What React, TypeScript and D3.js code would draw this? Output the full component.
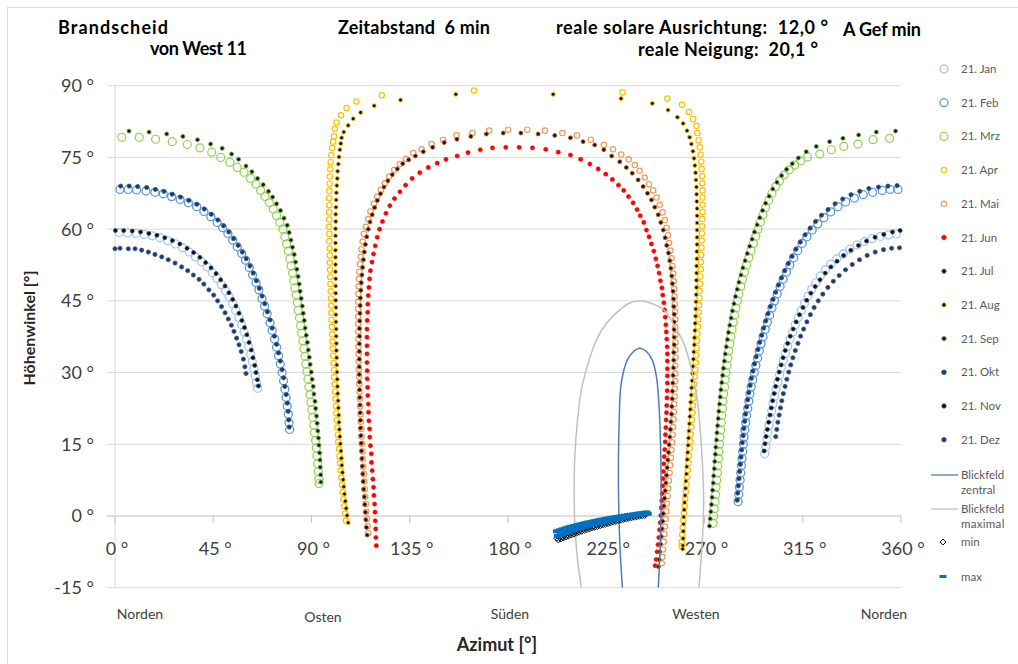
import React from 'react';
import * as d3 from 'd3';

type P = [number, number];

// ---------------- data (azimut °, höhenwinkel °) ----------------
const jan: P[] = [
  [2.0,59.3],[5.8,59.2],[9.6,59.1],[13.3,58.9],[17.0,58.6],[20.6,58.2],[24.2,57.6],[27.6,56.9],[30.9,56.1],[34.0,55.2],[36.9,54.2],[39.7,53.2],[42.2,52.1],[44.5,50.9],[46.7,49.7],[48.7,48.4],[50.6,47.1],[52.3,45.8],[53.9,44.4],[55.3,43.0],[56.7,41.5],[58.0,40.0],[59.1,38.5],[60.2,37.0],[61.2,35.4],[62.1,33.8],[62.9,32.3],[63.6,30.8],[64.2,29.3],[64.8,27.9],[65.3,26.7],
  [297.6,13.0],[298.1,14.5],[298.6,16.0],[299.1,17.5],[299.6,19.0],[300.2,20.5],[300.8,22.0],[301.4,23.5],[302.1,25.0],[302.8,26.5],[303.6,28.0],[304.4,29.5],[305.2,31.0],[306.1,32.5],[307.1,34.0],[308.1,35.5],[309.2,37.0],[310.4,38.5],[311.6,40.0],[312.9,41.5],[314.3,43.0],[315.8,44.5],[317.4,46.0],[319.1,47.4],[321.0,48.8],[323.1,50.2],[325.4,51.5],[327.9,52.7],[330.6,53.8],[333.5,54.8],[336.6,55.8],[339.9,56.7],[343.3,57.4],[346.9,58.0],[350.6,58.5],[354.3,58.8],[357.9,59.0]
];
const feb: P[] = [
  [2.3,68.3],[6.1,68.3],[9.9,68.2],[14.2,68.0],[18.3,67.7],[22.1,67.4],[25.9,66.8],[29.8,66.2],[33.6,65.5],[37.4,64.7],[40.7,63.7],[43.9,62.6],[46.8,61.4],[49.3,60.3],[51.7,59.1],[53.9,57.7],[56.0,56.3],[58.0,54.9],[59.8,53.5],[61.5,52.0],[63.0,50.4],[64.6,48.8],[65.9,47.3],[67.3,45.5],[68.5,43.9],[69.7,42.3],[71.0,40.4],[72.0,38.8],[73.1,37.0],[74.0,35.3],[74.9,33.5],[75.7,31.8],[76.5,30.0],[77.2,28.3],[77.8,26.5],[78.4,24.8],[78.9,23.0],[79.4,21.3],[79.7,19.5],[80.0,18.1],
  [285.4,3.0],[285.7,4.5],[286.0,6.0],[286.3,7.5],[286.6,9.0],[286.9,10.5],[287.2,12.0],[287.5,13.5],[287.8,15.0],[288.1,16.5],[288.5,18.0],[288.9,19.5],[289.3,21.0],[289.8,22.5],[290.3,24.0],[290.8,25.5],[291.4,27.0],[292.1,28.5],[292.8,30.0],[293.5,31.5],[294.3,33.0],[295.1,34.5],[295.9,36.0],[296.8,37.5],[297.8,39.0],[298.8,40.5],[299.8,42.0],[300.9,43.5],[302.1,45.0],[303.3,46.5],[304.6,48.0],[306.0,49.5],[307.5,51.0],[309.1,52.5],[310.8,54.0],[312.7,55.5],[314.7,57.0],[316.9,58.4],[319.3,59.8],[321.9,61.1],[324.7,62.4],[327.8,63.6],[331.1,64.7],[334.7,65.7],[338.6,66.5],[342.7,67.2],[347.0,67.7],[351.4,68.1],[355.0,68.3],[358.6,68.3]
];
const mrz: P[] = [
  [3.1,79.2],[11.1,79.2],[18.6,78.8],[26.2,78.3],[33.1,77.7],[38.9,77.0],[44.3,76.1],[48.4,75.0],[52.6,74.0],[56.0,72.9],[59.1,71.9],[62.1,70.6],[64.6,69.4],[66.7,68.1],[68.7,66.8],[70.7,65.5],[72.5,64.2],[74.0,62.8],[75.5,61.4],[76.9,60.0],[77.8,58.4],[78.6,56.9],[79.4,55.4],[80.1,53.8],[80.7,52.3],[81.3,50.8],[81.9,49.2],[82.4,47.7],[83.0,46.2],[83.5,44.6],[83.9,43.0],[84.5,41.4],[85.0,39.8],[85.5,38.2],[86.1,36.6],[86.5,35.0],[87.0,33.4],[87.4,31.8],[87.9,30.2],[88.4,28.6],[88.8,27.0],[89.3,25.4],[89.7,23.8],[90.2,22.2],[90.6,20.6],[91.1,19.0],[91.4,17.4],[91.9,15.8],[92.2,14.2],[92.5,12.6],[92.8,10.9],[93.1,9.3],[93.4,7.7],[93.5,6.8],
  [273.9,-1.5],[274.2,0.0],[274.5,1.5],[274.8,3.0],[275.1,4.5],[275.3,6.0],[275.6,7.5],[275.9,9.0],[276.1,10.5],[276.4,12.0],[276.6,13.5],[276.9,15.0],[277.1,16.5],[277.4,18.0],[277.7,19.5],[277.9,21.0],[278.2,22.5],[278.5,24.0],[278.8,25.5],[279.2,27.0],[279.5,28.5],[279.9,30.0],[280.3,31.5],[280.7,33.0],[281.1,34.5],[281.6,36.0],[282.1,37.5],[282.6,39.0],[283.2,40.5],[283.8,42.0],[284.4,43.5],[285.1,45.0],[285.8,46.5],[286.6,48.0],[287.4,49.5],[288.3,51.0],[289.3,52.5],[290.3,54.0],[291.3,55.5],[292.4,57.0],[293.5,58.5],[294.5,60.0],[295.6,61.5],[296.8,63.0],[298.0,64.5],[299.4,66.0],[300.9,67.5],[302.6,68.9],[304.4,70.1],[306.5,71.3],[308.8,72.4],[311.3,73.4],[314.1,74.3],[317.2,75.1],[322.8,75.7],[328.1,76.6],[333.8,77.3],[340.3,77.8],[347.2,78.7],[354.8,79.0]
];
const apr: P[] = [
  [105.8,-1.0],[105.4,0.5],[105.0,2.0],[104.6,3.5],[104.3,5.0],[104.0,6.5],[103.7,8.0],[103.4,9.5],[103.1,11.0],[102.8,12.5],[102.6,14.0],[102.3,15.5],[102.1,17.0],[101.8,18.5],[101.6,20.0],[101.4,21.5],[101.2,23.0],[101.0,24.5],[100.8,26.0],[100.6,27.5],[100.4,29.0],[100.3,30.5],[100.1,32.0],[99.9,33.5],[99.8,35.0],[99.6,36.5],[99.5,38.0],[99.4,39.5],[99.2,41.0],[99.1,42.5],[99.0,44.0],[98.9,45.5],[98.8,47.0],[98.7,48.5],[98.6,50.0],[98.5,51.5],[98.4,53.0],[98.4,54.5],[98.3,56.0],[98.2,57.5],[98.2,59.0],[98.1,60.5],[98.1,62.0],[98.1,63.5],[98.1,65.0],[98.1,66.5],[98.2,68.0],[98.3,69.5],[98.4,71.0],[98.6,72.5],[98.8,74.0],[99.1,75.5],[99.5,77.0],[99.9,78.3],
  [100.3,79.4],[100.7,81.0],[101.5,82.3],[103.5,83.8],[106.1,85.3],[110.6,86.7],[122.2,88.0],[164.4,89.0],[232.4,88.6],[253.0,87.3],[259.7,86.0],[262.9,84.5],[264.8,83.0],[266.3,81.6],
  [266.7,80.1],[267.3,78.6],[267.8,77.1],[268.2,75.6],[268.5,74.1],[268.7,72.6],[268.9,71.1],[269.0,69.6],[269.1,68.1],[269.1,66.6],[269.1,65.1],[269.1,63.6],[269.0,62.1],[268.9,60.6],[268.8,59.1],[268.7,57.6],[268.6,56.1],[268.5,54.6],[268.4,53.1],[268.3,51.6],[268.1,50.1],[268.0,48.6],[267.8,47.1],[267.7,45.6],[267.5,44.1],[267.4,42.6],[267.2,41.1],[267.0,39.6],[266.8,38.1],[266.6,36.6],[266.4,35.1],[266.2,33.6],[266.0,32.1],[265.8,30.6],[265.6,29.1],[265.4,27.6],[265.2,26.1],[264.9,24.6],[264.7,23.1],[264.5,21.6],[264.2,20.1],[264.0,18.6],[263.7,17.1],[263.5,15.6],[263.2,14.1],[262.9,12.6],[262.7,11.1],[262.4,9.6],[262.1,8.1],[261.8,6.6],[261.5,5.1],[261.2,3.6],[260.9,2.1],[260.6,0.6],[260.3,-0.9],[260.0,-2.4],[259.8,-3.9],[259.6,-5.4],[259.5,-6.3]
];
const mai: P[] = [
  [116.0,-3.6],[115.7,-2.1],[115.4,-0.6],[115.1,0.9],[114.9,2.5],[114.6,4.0],[114.4,5.6],[114.2,7.2],[114.0,8.8],[113.7,10.3],[113.5,11.9],[113.4,13.5],[113.1,15.1],[112.9,16.6],[112.8,18.2],[112.6,19.7],[112.5,21.3],[112.3,22.9],[112.2,24.5],[112.0,26.0],[111.9,27.6],[111.8,29.1],[111.7,30.7],[111.6,32.3],[111.6,33.9],[111.5,35.4],[111.5,37.0],[111.4,38.6],[111.4,40.2],[111.4,41.7],[111.4,43.3],[111.4,44.8],[111.5,46.4],[111.6,48.0],[111.7,49.6],[111.9,51.1],[112.2,52.7],[112.5,54.2],[112.9,55.8],[113.4,57.4],[114.0,59.0],[114.9,60.5],[116.0,62.1],[117.0,63.7],[118.6,65.3],[120.1,66.8],[121.8,68.2],[123.6,69.6],[125.6,71.0],[127.9,72.4],[130.5,73.6],[133.2,74.7],[136.6,75.9],[140.4,76.7],[145.0,77.8],[150.3,78.7],[156.4,79.6],[163.7,80.1],[171.4,80.6],[180.1,80.8],[188.8,80.8],[196.9,80.6],[204.9,80.1],[211.6,79.6],[217.9,78.7],[223.9,77.6],[228.1,76.7],[231.9,75.6],[235.3,74.6],[238.1,73.4],[240.3,72.2],[242.6,70.8],[244.6,69.4],[246.5,68.1],[248.0,66.6],[249.5,65.1],[250.8,63.5],[251.8,61.9],[252.6,60.3],[253.3,58.7],[253.8,57.1],[254.4,55.5],[254.9,53.9],[255.3,52.3],[255.6,50.7],[255.9,49.1],[256.1,47.5],[256.3,45.9],[256.4,44.3],[256.5,42.7],[256.6,41.1],[256.6,39.5],[256.7,37.9],[256.7,36.3],[256.7,34.7],[256.7,33.1],[256.6,31.4],[256.6,29.8],[256.5,28.2],[256.4,26.6],[256.3,25.0],[256.1,23.4],[256.0,21.8],[255.8,20.2],[255.6,18.6],[255.4,17.0],[255.2,15.4],[254.9,13.8],[254.6,12.2],[254.3,10.6],[254.0,9.0],[253.7,7.4],[253.4,5.8],[253.1,4.2],[252.8,2.6],[252.5,1.0],[252.2,-0.6],[251.9,-2.2],[251.6,-3.8],[251.3,-5.4],[251.0,-7.0],[250.7,-8.6],[250.4,-9.9]
];
const jun: P[] = [
  [119.7,-6.2],[119.5,-4.5],[119.4,-2.7],[119.2,-1.0],[119.1,0.8],[118.9,2.5],[118.6,4.3],[118.4,6.0],[118.1,7.7],[117.8,9.5],[117.5,11.2],[117.4,13.0],[117.0,14.7],[116.7,16.5],[116.6,18.2],[116.3,19.9],[116.1,21.7],[116.0,23.4],[115.8,25.2],[115.7,26.9],[115.5,28.7],[115.5,30.4],[115.4,32.1],[115.4,33.9],[115.4,35.6],[115.4,37.4],[115.4,39.1],[115.5,40.9],[115.7,42.6],[115.8,44.3],[116.0,46.1],[116.3,47.8],[116.6,49.6],[117.0,51.3],[117.7,53.1],[118.4,54.8],[119.2,56.5],[120.1,58.3],[121.2,60.0],[122.5,61.6],[124.1,63.3],[125.9,64.9],[128.0,66.4],[130.5,67.8],[133.1,69.2],[136.1,70.6],[139.6,71.8],[143.5,72.9],[147.6,73.8],[151.6,74.6],[156.7,75.3],[161.7,76.0],[167.3,76.6],[172.9,77.0],[179.0,77.1],[185.1,77.1],[191.2,77.0],[197.3,76.7],[203.0,76.1],[208.6,75.5],[213.3,74.6],[217.5,73.6],[221.3,72.6],[224.8,71.5],[227.8,70.4],[230.6,69.2],[233.0,68.1],[235.2,66.8],[237.3,65.5],[239.1,64.1],[240.6,62.8],[242.2,61.4],[243.4,59.8],[244.6,58.4],[245.7,56.9],[246.8,55.4],[247.7,53.8],[248.5,52.3],[249.2,50.8],[249.8,49.2],[250.5,47.7],[250.9,46.2],[251.4,44.6],[251.7,43.1],[252.0,41.6],[252.3,40.0],[252.5,38.5],[252.7,37.0],[252.9,35.4],[253.0,33.9],[253.0,32.4],[253.0,30.8],[253.0,29.3],[253.0,27.8],[252.9,26.2],[252.8,24.7],[252.7,23.1],[252.6,21.6],[252.4,20.1],[252.3,18.5],[252.1,17.0],[252.0,15.5],[251.8,13.9],[251.6,12.4],[251.4,10.9],[251.2,9.3],[251.0,7.8],[250.8,6.3],[250.6,4.7],[250.4,3.2],[250.2,1.7],[250.0,0.1],[249.7,-1.4],[249.4,-2.9],[249.1,-4.5],[248.7,-6.0],[248.3,-7.5],[247.9,-9.1],[247.4,-10.4]
];
const jul: P[] = [
  [115.5,-4.0],[115.2,-2.4],[114.9,-0.8],[114.7,0.8],[114.4,2.4],[114.2,4.0],[113.9,5.6],[113.7,7.2],[113.5,8.8],[113.3,10.4],[113.1,12.0],[112.9,13.6],[112.8,15.2],[112.6,16.8],[112.5,18.4],[112.4,20.0],[112.3,21.6],[112.2,23.2],[112.1,24.8],[112.0,26.4],[112.0,28.0],[111.9,29.6],[111.9,31.2],[111.9,32.8],[111.9,34.4],[111.9,36.0],[112.0,37.6],[112.0,39.2],[112.1,40.8],[112.2,42.4],[112.3,44.0],[112.4,45.6],[112.6,47.2],[112.8,48.8],[113.1,50.4],[113.4,52.0],[113.8,53.6],[114.2,55.2],[114.7,56.8],[115.3,58.4],[116.0,60.0],[116.8,61.5],[117.8,63.0],[118.9,64.5],[120.2,66.0],[121.6,67.4],[123.2,68.8],[125.0,70.1],[127.0,71.4],[129.3,72.6],[131.8,73.7],[134.5,74.5],[137.6,75.3],[141.2,76.2],[145.5,77.1],[150.8,78.1],[156.6,78.8],[163.0,79.4],[170.1,79.9],[177.8,80.1],[185.9,80.1],[193.8,79.9],[201.4,79.6],[208.6,79.1],[214.4,78.3],[219.7,77.6],[223.9,76.6],[227.5,75.3],[231.2,74.1],[234.2,72.9],[236.9,71.7],[239.6,70.3],[241.9,68.9],[243.9,67.5],[245.7,66.1],[247.2,64.6],[248.8,63.0],[250.0,61.4],[251.1,59.8],[252.0,58.2],[252.7,56.6],[253.5,55.0],[254.1,53.4],[254.6,51.8],[255.0,50.2],[255.3,48.6],[255.6,47.0],[255.8,45.4],[255.9,43.8],[256.1,42.2],[256.1,40.6],[256.1,39.0],[256.1,37.4],[256.1,35.8],[255.9,34.2],[255.9,32.6],[255.8,31.0],[255.6,29.4],[255.5,27.8],[255.3,26.1],[255.2,24.5],[255.0,22.9],[254.9,21.3],[254.6,19.7],[254.4,18.1],[254.1,16.5],[253.8,14.9],[253.5,13.3],[253.2,11.7],[252.9,10.1],[252.6,8.5],[252.3,6.9],[252.0,5.3],[251.7,3.7],[251.4,2.1],[251.1,0.5],[250.8,-1.1],[250.5,-2.7],[250.2,-4.3],[249.9,-5.9],[249.5,-7.5],[249.2,-9.1],[248.9,-10.6]
];
const aug: P[] = [
  [106.8,-1.4],[106.3,0.1],[105.9,1.6],[105.5,3.1],[105.1,4.6],[104.8,6.1],[104.5,7.6],[104.2,9.1],[103.9,10.6],[103.7,12.1],[103.5,13.6],[103.2,15.1],[103.0,16.6],[102.8,18.1],[102.6,19.6],[102.5,21.1],[102.3,22.6],[102.2,24.1],[102.0,25.6],[101.9,27.1],[101.8,28.6],[101.7,30.1],[101.6,31.6],[101.5,33.1],[101.4,34.6],[101.4,36.1],[101.3,37.6],[101.3,39.1],[101.2,40.6],[101.2,42.1],[101.2,43.6],[101.1,45.1],[101.1,46.6],[101.1,48.1],[101.1,49.6],[101.0,51.1],[101.0,52.6],[101.0,54.1],[101.0,55.6],[101.0,57.1],[101.0,58.6],[101.0,60.1],[101.1,61.6],[101.1,63.1],[101.2,64.6],[101.3,66.1],[101.4,67.6],[101.6,69.1],[101.8,70.6],[102.0,72.1],[102.3,73.6],[102.6,75.1],[103.0,76.6],[103.4,77.9],[103.8,79.1],
  [104.8,80.3],[106.8,81.7],[109.1,83.1],[112.5,84.4],[118.7,85.8],[130.8,87.0],[156.1,88.2],[200.7,88.2],[231.8,87.3],[246.1,86.3],[253.3,84.9],[257.6,83.4],[260.2,82.1],[262.0,80.6],
  [263.2,79.2],[264.0,77.8],[264.7,76.3],[265.2,74.8],[265.6,73.3],[265.9,71.8],[266.1,70.3],[266.3,68.8],[266.4,67.3],[266.5,65.8],[266.6,64.3],[266.6,62.8],[266.6,61.3],[266.6,59.8],[266.6,58.3],[266.6,56.8],[266.5,55.3],[266.5,53.8],[266.4,52.3],[266.4,50.8],[266.3,49.3],[266.3,47.8],[266.2,46.3],[266.1,44.8],[266.0,43.3],[265.9,41.8],[265.7,40.3],[265.6,38.8],[265.4,37.3],[265.3,35.8],[265.1,34.3],[264.9,32.8],[264.7,31.3],[264.5,29.8],[264.3,28.3],[264.1,26.8],[263.9,25.3],[263.7,23.8],[263.5,22.3],[263.3,20.8],[263.1,19.3],[262.9,17.8],[262.7,16.3],[262.5,14.8],[262.3,13.3],[262.1,11.8],[261.9,10.3],[261.7,8.8],[261.5,7.3],[261.3,5.8],[261.1,4.3],[260.9,2.8],[260.7,1.3],[260.5,-0.2],[260.4,-1.7],[260.3,-3.2],[260.2,-4.7],[260.1,-6.2],[260.0,-6.9]
];
const sep: P[] = [
  [6.4,80.5],[15.6,80.3],[23.7,79.9],[31.1,79.4],[37.8,78.7],[43.8,77.8],[49.1,76.9],[53.4,75.7],[56.6,74.6],[60.0,73.2],[62.7,72.0],[65.3,70.6],[67.9,69.3],[70.3,67.9],[72.2,66.7],[74.0,65.3],[75.8,63.9],[77.4,62.3],[78.9,60.8],[79.8,59.3],[80.6,57.7],[81.3,56.2],[82.1,54.7],[82.7,53.1],[83.3,51.6],[83.9,50.1],[84.4,48.5],[84.8,47.0],[85.3,45.5],[85.8,43.9],[86.2,42.4],[86.7,40.9],[87.1,39.3],[87.6,37.8],[88.1,36.3],[88.5,34.7],[89.0,33.2],[89.4,31.7],[89.9,30.1],[90.3,28.6],[90.8,27.1],[91.1,25.5],[91.6,24.0],[91.9,22.5],[92.3,20.9],[92.6,19.4],[92.9,17.8],[93.2,16.3],[93.4,14.8],[93.7,13.2],[93.9,11.7],[94.0,10.2],[94.2,8.6],[94.3,7.1],
  [272.3,-2.1],[272.6,-0.6],[272.9,0.9],[273.2,2.4],[273.5,3.9],[273.7,5.4],[274.0,6.9],[274.2,8.4],[274.5,9.9],[274.7,11.4],[275.0,12.9],[275.2,14.4],[275.5,15.9],[275.7,17.4],[276.0,18.9],[276.3,20.4],[276.6,21.9],[276.9,23.4],[277.2,24.9],[277.5,26.4],[277.9,27.9],[278.3,29.4],[278.7,30.9],[279.1,32.4],[279.5,33.9],[280.0,35.4],[280.5,36.9],[281.0,38.4],[281.6,39.9],[282.2,41.4],[282.8,42.9],[283.5,44.4],[284.2,45.9],[285.0,47.4],[285.8,48.9],[286.7,50.4],[287.6,51.9],[288.6,53.4],[289.6,54.9],[290.7,56.4],[291.8,57.9],[292.9,59.4],[294.1,60.9],[295.3,62.4],[296.6,63.9],[298.0,65.4],[299.6,66.9],[301.3,68.4],[303.2,69.8],[305.3,71.2],[307.6,72.5],[310.2,73.7],[313.0,74.9],[316.6,76.2],[321.2,77.3],[327.3,78.3],[333.4,79.0],[340.6,79.7],[348.7,80.3],[357.5,80.5]
];
const okt: P[] = [
  [2.6,69.0],[6.5,69.0],[10.4,68.9],[14.5,68.7],[18.5,68.3],[22.4,67.9],[26.2,67.3],[30.0,66.7],[33.8,66.0],[37.5,65.2],[40.9,64.2],[44.1,63.1],[47.1,61.9],[49.7,60.7],[52.1,59.4],[54.3,58.0],[56.4,56.6],[58.3,55.2],[60.1,53.8],[61.8,52.3],[63.3,50.8],[64.8,49.2],[66.1,47.6],[67.4,46.0],[68.6,44.4],[69.8,42.7],[71.0,41.0],[72.0,39.3],[73.0,37.6],[74.0,35.9],[74.9,34.1],[75.7,32.4],[76.5,30.6],[77.2,28.9],[77.8,27.1],[78.4,25.4],[78.9,23.6],[79.3,21.9],[79.6,20.1],[79.8,18.6],
  [285.0,3.3],[285.2,4.8],[285.5,6.3],[285.8,7.8],[286.1,9.3],[286.4,10.8],[286.7,12.3],[287.0,13.8],[287.3,15.3],[287.7,16.8],[288.0,18.3],[288.4,19.8],[288.8,21.3],[289.3,22.8],[289.8,24.3],[290.3,25.8],[290.9,27.3],[291.5,28.8],[292.2,30.3],[292.9,31.8],[293.7,33.3],[294.5,34.8],[295.3,36.3],[296.2,37.8],[297.1,39.3],[298.1,40.8],[299.1,42.3],[300.2,43.8],[301.4,45.3],[302.6,46.8],[303.9,48.3],[305.3,49.8],[306.8,51.3],[308.4,52.8],[310.1,54.3],[311.9,55.8],[313.9,57.3],[316.1,58.8],[318.4,60.2],[320.9,61.6],[323.6,62.9],[326.6,64.1],[329.8,65.3],[333.3,66.3],[337.1,67.2],[341.1,67.9],[345.3,68.5],[349.7,68.8],[354.0,69.0],[358.2,69.1]
];
const nov: P[] = [
  [0.2,59.7],[4.0,59.7],[7.9,59.6],[11.7,59.4],[15.5,59.1],[19.2,58.7],[22.8,58.2],[26.3,57.6],[29.7,56.9],[33.0,56.0],[36.0,55.1],[38.9,54.1],[41.5,53.0],[44.0,51.9],[46.3,50.7],[48.4,49.4],[50.4,48.1],[52.2,46.7],[53.9,45.3],[55.4,43.9],[56.8,42.4],[58.1,40.9],[59.3,39.4],[60.4,37.9],[61.4,36.3],[62.4,34.7],[63.2,33.1],[64.0,31.5],[64.6,30.0],[65.2,28.5],[65.7,27.2],
  [297.3,13.6],[297.7,15.1],[298.2,16.6],[298.8,18.1],[299.4,19.6],[300.0,21.1],[300.6,22.6],[301.2,24.1],[301.9,25.6],[302.6,27.1],[303.4,28.6],[304.2,30.1],[305.1,31.6],[306.0,33.1],[307.0,34.6],[308.1,36.1],[309.3,37.6],[310.6,39.1],[312.0,40.6],[313.5,42.1],[315.1,43.6],[316.8,45.1],[318.7,46.6],[320.7,48.0],[322.9,49.4],[325.3,50.8],[327.9,52.1],[330.7,53.3],[333.7,54.5],[337.0,55.6],[340.5,56.6],[344.2,57.5],[348.1,58.3],[352.1,58.9],[356.1,59.4],[359.6,59.7]
];
const dez: P[] = [
  [0.0,55.9],[2.3,56.0],[6.1,55.9],[9.2,55.9],[12.2,55.6],[15.3,55.2],[18.3,54.7],[21.4,54.2],[24.4,53.6],[27.5,52.9],[30.5,52.1],[33.3,51.3],[35.9,50.4],[38.5,49.5],[40.7,48.5],[43.0,47.3],[45.2,46.2],[47.0,45.0],[48.8,43.8],[50.4,42.5],[51.9,41.2],[53.3,39.9],[54.5,38.6],[55.7,37.2],[56.8,35.8],[57.8,34.4],[58.8,32.8],[59.5,31.2],[60.0,29.8],
  [302.6,16.6],[303.1,18.1],[303.6,19.6],[304.2,21.1],[304.8,22.6],[305.4,24.1],[306.1,25.6],[306.9,27.1],[307.7,28.6],[308.6,30.1],[309.5,31.6],[310.5,33.1],[311.6,34.6],[312.8,36.1],[314.0,37.6],[315.4,39.1],[316.9,40.6],[318.5,42.1],[320.2,43.6],[322.1,45.0],[324.2,46.4],[326.5,47.8],[329.0,49.1],[331.7,50.3],[334.6,51.5],[337.7,52.6],[341.0,53.6],[344.5,54.5],[348.2,55.2],[352.0,55.7],[355.7,56.0],[359.3,56.1]
];
const blickZentral: P[] = [
  [232.4,-15.0],[231.5,-8.5],[230.9,-1.5],[230.6,5.4],[230.6,12.4],[230.9,19.4],[231.5,26.4],[232.7,29.8],[234.6,32.6],[237.5,34.4],[240.3,35.1],[243.4,34.4],[246.1,32.6],[248.0,29.1],[249.2,22.9],[249.8,15.9],[250.1,8.9],[250.1,2.0],[249.8,-5.0],[249.2,-12.0],[248.8,-15.0]
];
const blickMaximal: P[] = [
  [213.6,-15.0],[211.7,-8.5],[210.6,-1.5],[210.3,5.4],[210.6,12.4],[211.7,19.4],[213.6,26.4],[216.7,31.9],[220.5,36.8],[225.1,40.3],[231.2,43.1],[235.5,44.5],[240.3,45.0],[245.5,44.5],[251.4,43.1],[255.6,40.3],[260.5,36.1],[264.0,30.8],[266.6,24.6],[268.1,17.6],[269.1,10.6],[269.6,3.6],[269.2,-3.6],[268.2,-10.6],[267.5,-15.0]
];
const minValues: P[] = [
  [202.4,-4.7],[203.6,-4.5],[204.8,-4.3],[206.0,-4.05],[207.2,-3.85],[208.4,-3.65],[209.6,-3.45],[210.8,-3.25],[212.0,-3.05],[213.2,-2.85],[214.4,-2.67],[215.6,-2.5],[216.8,-2.33],[218.0,-2.16],[219.2,-2.0],[220.4,-1.84],[221.6,-1.68],[222.8,-1.53],[224.0,-1.38],[225.2,-1.24],[226.4,-1.1],[227.6,-0.97],[228.8,-0.84],[230.0,-0.72],[231.2,-0.6],[232.4,-0.48],[233.6,-0.37],[234.8,-0.26],[236.0,-0.16],[237.2,-0.06],[238.4,0.04],[239.6,0.13],[240.8,0.22],[242.0,0.3],[243.2,0.37],
  [203.0,-5.0],[204.2,-4.8],[205.4,-4.6],[206.6,-4.4],[207.8,-4.2],[209.0,-4.0],[210.2,-3.8],[211.4,-3.6],[212.6,-3.4],[213.8,-3.2],[215.0,-3.0],[216.2,-2.85],[217.4,-2.7],[218.6,-2.5],[219.8,-2.35],[221.0,-2.2],[222.2,-2.05],[223.4,-1.9],[224.6,-1.75],[225.8,-1.6],[227.0,-1.45],[228.2,-1.3],[229.4,-1.15],[230.6,-1.0],[231.8,-0.88],[233.0,-0.75],[234.2,-0.62],[235.4,-0.5],[236.6,-0.38],[237.8,-0.27],[239.0,-0.16],[240.2,-0.06],[241.4,0.03],[242.6,0.12]
];
const maxValues: P[] = [
  [202.6,-4.2],[203.9,-4.0],[205.2,-3.8],[206.5,-3.55],[207.8,-3.35],[209.1,-3.15],[210.4,-2.95],[211.7,-2.75],[213.0,-2.58],[214.3,-2.4],[215.6,-2.22],[216.9,-2.05],[218.2,-1.9],[219.5,-1.75],[220.8,-1.6],[222.1,-1.45],[223.4,-1.3],[224.7,-1.16],[226.0,-1.02],[227.3,-0.9],[228.6,-0.78],[229.9,-0.66],[231.2,-0.54],[232.5,-0.43],[233.8,-0.32],[235.1,-0.21],[236.4,-0.1],[237.7,0.0],[239.0,0.1],[240.3,0.2],[241.6,0.3],[242.9,0.38],[244.2,0.45],
  [202.2,-3.2],[203.5,-3.0],[204.8,-2.8],[206.1,-2.6],[207.4,-2.4],[208.7,-2.25],[210.0,-2.1],[211.3,-1.95],[212.6,-1.8],[213.9,-1.65],[215.2,-1.5],[216.5,-1.37],[217.8,-1.24],[219.1,-1.11],[220.4,-0.99],[221.7,-0.87],[223.0,-0.75],[224.3,-0.64],[225.6,-0.53],[226.9,-0.42],[228.2,-0.32],[229.5,-0.22],[230.8,-0.12],[232.1,-0.03],[233.4,0.07],[234.7,0.16],[236.0,0.25],[237.3,0.34],[238.6,0.43],[239.9,0.52],[241.2,0.6],[242.5,0.68],[243.6,0.75]
];

const yTicks = [-15, 0, 15, 30, 45, 60, 75, 90];
const xTicks = [0, 45, 90, 135, 180, 225, 270, 315, 360];
const directionLabels = ['Norden', 'Osten', 'Süden', 'Westen', 'Norden'];
const monthNames = ['21. Jan','21. Feb','21. Mrz','21. Apr','21. Mai','21. Jun','21. Jul','21. Aug','21. Sep','21. Okt','21. Nov','21. Dez'];
const titleTexts = ['Brandscheid', 'von West 11', 'Zeitabstand  6 min', 'reale solare Ausrichtung:  12,0 °', 'reale Neigung:  20,1 °', 'A Gef min'];

// ---------------- styles / layout ----------------
const FONT = "Lato, 'Open Sans', sans-serif";
const W = 1018, H = 664;
const PL = 115, PR = 901, PT = 85.7, PB = 587.7;
const dirX = [140, 323, 510, 696, 884];
const dirY = [619, 622, 619, 619, 619];
const titleLayout = [
  { x: 58, y: 34, w: 110, anchor: 'start' },
  { x: 150, y: 55, w: 97, anchor: 'start' },
  { x: 338, y: 34, w: 152, anchor: 'start' },
  { x: 556, y: 34, w: 272, anchor: 'start' },
  { x: 818, y: 56, w: 180, anchor: 'end' },
  { x: 843, y: 36, w: 78, anchor: 'start' },
];

type Sty = { kind: 'ring' | 'dot'; r: number; fill: string; stroke: string; sw: number };
const monthData = [jan, feb, mrz, apr, mai, jun, jul, aug, sep, okt, nov, dez];
const monthStyles: Sty[] = [
  { kind: 'ring', r: 4.0, fill: 'none', stroke: '#a9c6ea', sw: 1.3 },
  { kind: 'ring', r: 4.0, fill: 'none', stroke: '#5b9bd5', sw: 1.3 },
  { kind: 'ring', r: 4.0, fill: 'none', stroke: '#92d050', sw: 1.2 },
  { kind: 'ring', r: 2.7, fill: 'none', stroke: '#ffc000', sw: 1.2 },
  { kind: 'ring', r: 2.7, fill: 'none', stroke: '#f09a5a', sw: 1.2 },
  { kind: 'dot', r: 2.1, fill: '#ff0000', stroke: '#ff0000', sw: 0.6 },
  { kind: 'dot', r: 2.0, fill: '#111111', stroke: '#c0672a', sw: 0.9 },
  { kind: 'dot', r: 2.0, fill: '#111111', stroke: '#ffc000', sw: 0.9 },
  { kind: 'dot', r: 2.0, fill: '#111111', stroke: '#70ad47', sw: 0.9 },
  { kind: 'dot', r: 2.1, fill: '#1f3864', stroke: '#2f5597', sw: 0.8 },
  { kind: 'dot', r: 2.0, fill: '#0d0d0d', stroke: '#2f4f7f', sw: 0.8 },
  { kind: 'dot', r: 2.1, fill: '#203864', stroke: '#3a5f95', sw: 0.8 },
];

export default function App() {
  const x = d3.scaleLinear().domain([0, 360]).range([PL, PR]);
  const y = d3.scaleLinear().domain([-15, 90]).range([PB, PT]);
  const line = d3.line<P>().x(d => x(d[0])).y(d => y(d[1])).curve(d3.curveCatmullRom.alpha(0.5));

  const legendY = (i: number) => 69 + i * 33.7;

  return (
    <div style={{ position: 'absolute', left: 0, top: 0 }}>
      <svg width={W} height={H} style={{ display: 'block', background: '#fff' }} fontFamily={FONT}>
        <defs>
          <clipPath id="plot"><rect x={PL - 6} y={PT - 6} width={PR - PL + 12} height={PB - PT + 6} /></clipPath>
        </defs>
        <rect x={0} y={0} width={W} height={H} fill="#fff" />
        <rect x={7.5} y={7.5} width={W + 20} height={H + 20} fill="none" stroke="#d9d9d9" strokeWidth={1} />

        {/* titles */}
        <g fontWeight={700} fontSize={18} fill="#000">
          {titleTexts.map((t, i) => {
            const l = titleLayout[i];
            return (
              <text key={'t' + i} x={l.x} y={l.y} textAnchor={l.anchor} textLength={l.w} lengthAdjust="spacing" xmlSpace="preserve">{t}</text>
            );
          })}
        </g>

        {/* grid */}
        {yTicks.map(t => (
          <line key={'g' + t} x1={PL - 8} x2={PR} y1={y(t)} y2={y(t)} stroke={t === 0 ? '#bfbfbf' : '#d9d9d9'} strokeWidth={1} />
        ))}
        <line x1={PL} x2={PL} y1={PT} y2={PB} stroke="#d9d9d9" strokeWidth={1} />
        {xTicks.map(t => (
          <line key={'xt' + t} x1={x(t)} x2={x(t)} y1={y(0)} y2={y(0) + 7} stroke="#bfbfbf" strokeWidth={1} />
        ))}

        {/* axis labels */}
        <g fontSize={18} fill="#404040">
          {yTicks.map(t => (
            <text key={'yl' + t} x={94} y={y(t)} dy="0.36em" textAnchor="end">{`${t} °`}</text>
          ))}
          {xTicks.map(t => (
            <text key={'xl' + t} x={x(t) + 2} y={555} textAnchor="middle">{`${t} °`}</text>
          ))}
        </g>
        <g fontSize={14} fill="#404040">
          {directionLabels.map((d, i) => (
            <text key={'d' + i} x={dirX[i]} y={dirY[i]} textAnchor="middle">{d}</text>
          ))}
        </g>
        <text x={497} y={651} textAnchor="middle" fontWeight={700} fontSize={18} fill="#262626">Azimut [°]</text>
        <text transform="translate(35,328) rotate(-90)" textAnchor="middle" fontWeight={700} fontSize={16} fill="#262626">Höhenwinkel [°]</text>

        {/* series */}
        <g clipPath="url(#plot)">
          {monthData.map((data, si) => {
            const s = monthStyles[si];
            return (
              <g key={'s' + si}>
                {data.map((d, i) => (
                  <circle key={i} cx={x(d[0])} cy={y(d[1])} r={s.r} fill={s.fill} stroke={s.stroke} strokeWidth={s.sw} />
                ))}
              </g>
            );
          })}
          <path d={line(blickZentral) || ''} fill="none" stroke="#4a7ebb" strokeWidth={1.5} />
          <path d={line(blickMaximal) || ''} fill="none" stroke="#c0c0c0" strokeWidth={1.5} />
          {minValues.map((d, i) => {
            const cx = x(d[0]), cy = y(d[1]);
            return <path key={'mn' + i} d={`M${cx},${cy - 3}L${cx + 3},${cy}L${cx},${cy + 3}L${cx - 3},${cy}Z`} fill="none" stroke="#000" strokeWidth={0.9} />;
          })}
          {maxValues.map((d, i) => {
            const cx = x(d[0]), cy = y(d[1]);
            return <rect key={'mx' + i} x={cx - 3.5} y={cy - 2} width={7} height={4} fill="#0070c0" />;
          })}
        </g>

        {/* legend */}
        <g fontSize={11.5} fill="#595959">
          {monthNames.map((m, i) => {
            const s = monthStyles[i];
            const ly = legendY(i);
            return (
              <g key={'lg' + i}>
                <circle cx={944} cy={ly} r={s.kind === 'ring' ? s.r : s.r + 0.2} fill={s.fill} stroke={s.stroke} strokeWidth={s.sw} />
                <text x={961} y={ly} dy="0.35em">{m}</text>
              </g>
            );
          })}
          <line x1={931} x2={958} y1={475} y2={475} stroke="#4a7ebb" strokeWidth={1.3} />
          <text x={961} y={475} dy="0.35em">Blickfeld</text>
          <text x={961} y={490} dy="0.35em">zentral</text>
          <line x1={931} x2={958} y1={509} y2={509} stroke="#c0c0c0" strokeWidth={1.3} />
          <text x={961} y={509} dy="0.35em">Blickfeld</text>
          <text x={961} y={524} dy="0.35em" letterSpacing="0.3">maximal</text>
          <path d="M943,539L946,542L943,545L940,542Z" fill="#fff" stroke="#000" strokeWidth={0.9} />
          <text x={961} y={542} dy="0.35em">min</text>
          <rect x={939.5} y={575} width={7} height={3} fill="#0070c0" />
          <text x={961} y={576.5} dy="0.35em">max</text>
        </g>
      </svg>
    </div>
  );
}
